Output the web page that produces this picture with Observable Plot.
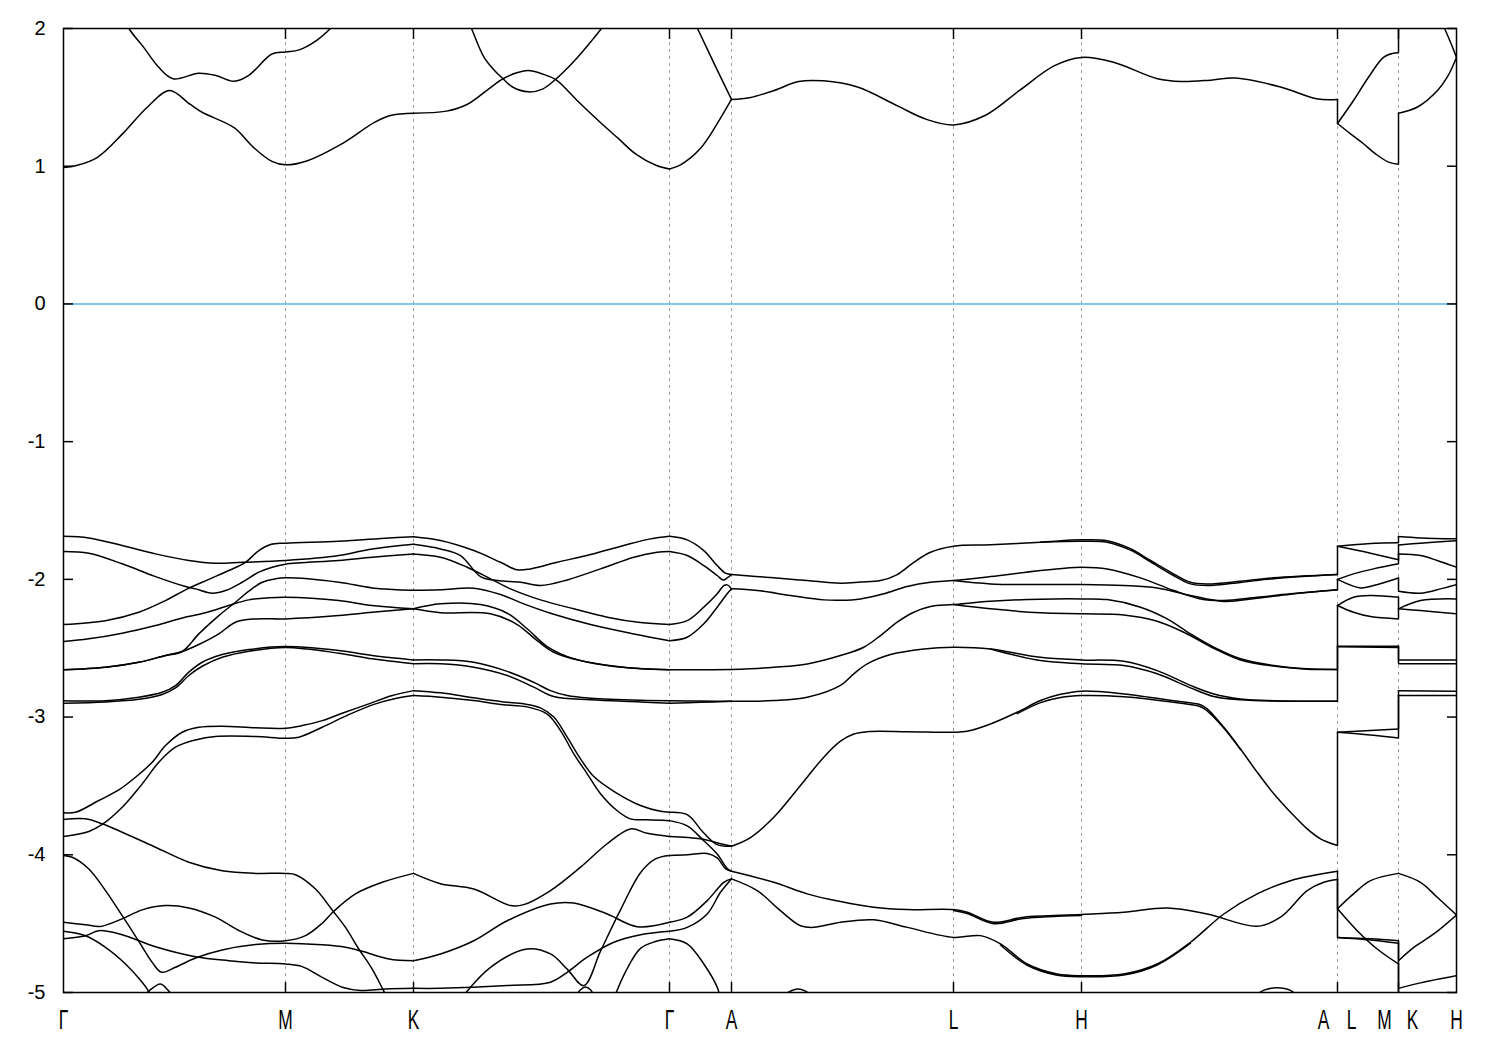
<!DOCTYPE html>
<html>
<head>
<meta charset="utf-8">
<script src="https://cdn.jsdelivr.net/npm/d3@7"></script>
<script src="https://cdn.jsdelivr.net/npm/@observablehq/plot@0.6"></script>
<style>
  html, body { margin: 0; padding: 0; background: #fff; }
  #chart { width: 1500px; height: 1050px; }
</style>
</head>
<body>
<div id="chart"></div>
<script>
// ---- k-path (Å⁻¹) and labels ----
const kTicks = [0, 1.11, 1.75, 3.03, 3.34, 4.45, 5.09, 6.37, 6.675, 6.965];
const kTickLabels = ["Γ", "M", "K", "Γ", "A", "L", "H", "A L", "M K", "H"];
const yTicks = [-5, -4, -3, -2, -1, 0, 1, 2];
const fermiLevel = [0];

// ---- bands, segment Γ–M–K : [k, E(eV)] ----
const segGMK = [
  [[0,0.99],[0.065,1.005],[0.17,1.065],[0.295,1.235],[0.42,1.43],[0.53,1.55],[0.6325,1.45],[0.695,1.39],[0.853,1.28],[0.9475,1.14],[1.042,1.035],[1.11,1.01],[1.22,1.04],[1.389,1.16],[1.557,1.32],[1.64,1.37],[1.75,1.385]],
  [[0.285,2.15],[0.3275,2.0],[0.40,1.865],[0.475,1.72],[0.548,1.635],[0.675,1.675],[0.7585,1.66],[0.853,1.617],[0.9265,1.66],[1.042,1.815],[1.11,1.83],[1.1785,1.845],[1.2625,1.91],[1.335,2.0],[1.385,2.08]],
  [[0,-1.687],[0.1265,-1.699],[0.2935,-1.754],[0.46,-1.815],[0.6265,-1.863],[0.76,-1.883],[0.8935,-1.876],[1.11,-1.863],[1.3765,-1.827],[1.5435,-1.779],[1.75,-1.745]],
  [[0,-1.798],[0.1265,-1.81],[0.2935,-1.887],[0.46,-1.98],[0.61,-2.052],[0.66,-2.069],[0.7435,-2.10],[0.81,-2.081],[0.8935,-2.021],[0.9765,-1.948],[1.0435,-1.912],[1.11,-1.89],[1.3765,-1.863],[1.5435,-1.839],[1.75,-1.815]],
  [[0,-2.328],[0.21,-2.30],[0.3765,-2.239],[0.51,-2.154],[0.61,-2.076],[0.7265,-2.0],[0.8265,-1.936],[0.91,-1.876],[0.9765,-1.791],[1.035,-1.747],[1.11,-1.737],[1.3765,-1.723],[1.6265,-1.699],[1.75,-1.69]],
  [[0,-2.452],[0.1265,-2.432],[0.2935,-2.391],[0.46,-2.335],[0.5935,-2.28],[0.71,-2.243],[0.8265,-2.19],[0.9265,-2.149],[1.0265,-2.134],[1.11,-2.13],[1.3765,-2.154],[1.5435,-2.19],[1.75,-2.214]],
  [[0,-2.657],[0.21,-2.638],[0.3765,-2.602],[0.51,-2.553],[0.5935,-2.524],[0.6765,-2.396],[0.7765,-2.263],[0.86,-2.166],[0.9265,-2.086],[0.9935,-2.021],[1.06,-1.996],[1.11,-1.989],[1.3765,-2.021],[1.5435,-2.062],[1.75,-2.08]],
  [[0,-2.657],[0.21,-2.638],[0.3765,-2.602],[0.51,-2.553],[0.5935,-2.524],[0.6765,-2.473],[0.7765,-2.396],[0.86,-2.311],[0.96,-2.287],[1.11,-2.287],[1.3765,-2.263],[1.5435,-2.239],[1.75,-2.214]],
  [[0,-2.881],[0.21,-2.881],[0.3765,-2.856],[0.4935,-2.82],[0.56,-2.771],[0.6265,-2.674],[0.6935,-2.602],[0.7935,-2.546],[0.9265,-2.51],[1.11,-2.488],[1.3765,-2.517],[1.5435,-2.553],[1.75,-2.585]],
  [[0,-2.90],[0.21,-2.89],[0.3765,-2.871],[0.4935,-2.836],[0.56,-2.788],[0.6265,-2.698],[0.6935,-2.631],[0.7935,-2.566],[0.9265,-2.522],[1.11,-2.495],[1.3765,-2.536],[1.5435,-2.577],[1.75,-2.613]],
  [[0,-3.695],[0.06,-3.691],[0.1765,-3.606],[0.2765,-3.529],[0.36,-3.437],[0.4435,-3.328],[0.51,-3.207],[0.5935,-3.11],[0.6765,-3.074],[0.7935,-3.066],[0.96,-3.078],[1.11,-3.081],[1.1935,-3.062],[1.2935,-3.026],[1.3935,-2.972],[1.5265,-2.904],[1.64,-2.845],[1.75,-2.808]],
  [[0,-3.867],[0.1265,-3.831],[0.1935,-3.78],[0.2935,-3.655],[0.3935,-3.485],[0.4765,-3.328],[0.56,-3.219],[0.66,-3.166],[0.76,-3.141],[0.96,-3.141],[1.11,-3.154],[1.1765,-3.146],[1.2935,-3.074],[1.4265,-2.982],[1.56,-2.904],[1.66,-2.865],[1.75,-2.844]],
  [[0,-3.744],[0.11,-3.739],[0.1935,-3.775],[0.2935,-3.836],[0.46,-3.945],[0.6265,-4.054],[0.7935,-4.116],[0.96,-4.135],[1.11,-4.135],[1.16,-4.145],[1.26,-4.249],[1.3435,-4.401],[1.41,-4.527],[1.4765,-4.684],[1.5435,-4.83],[1.6015,-4.99],[1.66,-5.15]],
  [[0,-4.005],[0.0435,-4.018],[0.1265,-4.103],[0.21,-4.26],[0.2935,-4.442],[0.3765,-4.629],[0.4435,-4.781],[0.49,-4.853],[0.56,-4.817],[0.66,-4.749],[0.7935,-4.691],[0.96,-4.652],[1.11,-4.642],[1.2935,-4.654],[1.41,-4.672],[1.4935,-4.701],[1.6265,-4.756],[1.75,-4.769]],
  [[0,-4.49],[0.11,-4.508],[0.185,-4.52],[0.2935,-4.465],[0.3935,-4.40],[0.51,-4.369],[0.6265,-4.386],[0.76,-4.453],[0.8765,-4.55],[0.9935,-4.618],[1.11,-4.624],[1.21,-4.587],[1.2935,-4.497],[1.3515,-4.41],[1.46,-4.284],[1.5935,-4.2],[1.75,-4.135]],
  [[0,-4.555],[0.11,-4.588],[0.21,-4.672],[0.31,-4.793],[0.3935,-4.926],[0.435,-5.01],[0.475,-5.1]],
  [[0,-4.61],[0.11,-4.588],[0.1765,-4.551],[0.2935,-4.58],[0.46,-4.668],[0.66,-4.74],[0.8265,-4.769],[0.96,-4.785],[1.11,-4.793],[1.1935,-4.812],[1.2935,-4.89],[1.3935,-4.962],[1.485,-4.985],[1.61,-4.975],[1.75,-4.97]],
  [[0.385,-5.05],[0.4265,-4.99],[0.485,-4.938],[0.5265,-4.99],[0.56,-5.05]]
];

// ---- segment K–Γ ----
const segKG = [
  [[1.75,1.385],[1.915,1.40],[2.02,1.45],[2.125,1.56],[2.1975,1.635],[2.27,1.68],[2.3235,1.695],[2.395,1.67],[2.46,1.63],[2.52,1.55],[2.585,1.453],[2.69,1.31],[2.775,1.20],[2.86,1.09],[2.965,1.005],[3.03,0.98]],
  [[1.995,2.15],[2.04,2.0],[2.103,1.79],[2.155,1.695],[2.1975,1.635],[2.245,1.575],[2.3235,1.54],[2.395,1.56],[2.46,1.63],[2.525,1.72],[2.585,1.815],[2.64,1.91],[2.69,2.0],[2.735,2.08]],
  [[1.75,-1.69],[1.885,-1.718],[2.0515,-1.791],[2.185,-1.876],[2.2685,-1.931],[2.335,-1.924],[2.4685,-1.876],[2.635,-1.82],[2.8015,-1.754],[2.935,-1.706],[3.03,-1.687]],
  [[1.75,-1.745],[1.885,-1.779],[1.985,-1.827],[2.085,-1.98],[2.1685,-2.009],[2.285,-2.021],[2.385,-2.045],[2.5185,-2.004],[2.685,-1.924],[2.8515,-1.839],[2.9685,-1.803],[3.03,-1.798]],
  [[1.75,-1.815],[1.885,-1.839],[2.0185,-1.912],[2.135,-1.996],[2.235,-2.069],[2.385,-2.149],[2.5515,-2.214],[2.7185,-2.275],[2.885,-2.314],[3.03,-2.328]],
  [[1.75,-2.08],[1.885,-2.076],[2.0515,-2.064],[2.185,-2.11],[2.3015,-2.178],[2.435,-2.246],[2.635,-2.328],[2.8515,-2.396],[3.03,-2.445]],
  [[1.75,-2.214],[1.885,-2.178],[2.085,-2.183],[2.2185,-2.246],[2.3185,-2.359],[2.4185,-2.488],[2.5515,-2.577],[2.7185,-2.626],[2.885,-2.65],[3.03,-2.657]],
  [[1.75,-2.214],[1.885,-2.242],[2.135,-2.25],[2.2685,-2.328],[2.3685,-2.445],[2.4515,-2.529],[2.585,-2.59],[2.8015,-2.638],[3.03,-2.657]],
  [[1.75,-2.585],[1.885,-2.585],[2.0515,-2.602],[2.2185,-2.668],[2.3515,-2.748],[2.435,-2.808],[2.5185,-2.844],[2.635,-2.863],[2.885,-2.878],[3.03,-2.881]],
  [[1.75,-2.613],[1.885,-2.613],[2.0515,-2.638],[2.2185,-2.698],[2.3515,-2.783],[2.4515,-2.851],[2.635,-2.875],[2.885,-2.89],[3.03,-2.90]],
  [[1.75,-2.808],[1.885,-2.824],[2.05,-2.86],[2.2,-2.89],[2.3015,-2.904],[2.385,-2.933],[2.4515,-3.0],[2.5185,-3.146],[2.585,-3.303],[2.6515,-3.432],[2.7515,-3.539],[2.885,-3.642],[2.985,-3.684],[3.03,-3.691]],
  [[1.75,-2.844],[1.885,-2.856],[2.05,-2.88],[2.2,-2.91],[2.3185,-2.926],[2.4185,-2.978],[2.485,-3.098],[2.5515,-3.267],[2.6185,-3.412],[2.685,-3.557],[2.7685,-3.68],[2.835,-3.739],[2.9185,-3.746],[3.03,-3.752]],
  [[1.75,-4.135],[1.885,-4.21],[2.0515,-4.249],[2.235,-4.369],[2.3015,-4.362],[2.435,-4.26],[2.585,-4.09],[2.7185,-3.92],[2.835,-3.812],[2.9185,-3.844],[3.03,-3.867]],
  [[1.75,-4.769],[1.885,-4.72],[2.0515,-4.624],[2.2185,-4.479],[2.435,-4.357],[2.5515,-4.35],[2.7185,-4.43],[2.8685,-4.522],[3.03,-4.49]],
  [[1.75,-4.97],[1.885,-4.97],[2.2185,-4.95],[2.435,-4.925],[2.5185,-4.853],[2.6185,-4.744],[2.7515,-4.635],[2.885,-4.58],[3.03,-4.555]],
  [[1.985,-5.05],[2.135,-4.817],[2.3185,-4.684],[2.435,-4.72],[2.5185,-4.83],[2.6015,-4.95],[2.685,-4.70],[2.785,-4.40],[2.885,-4.13],[2.96,-4.03],[3.03,-4.005]],
  [[2.75,-5.05],[2.81,-4.85],[2.885,-4.68],[2.96,-4.63],[3.03,-4.61]],
  [[2.55,-5.05],[2.585,-4.98],[2.61,-4.96],[2.635,-4.98],[2.66,-5.05]]
];

// ---- segment Γ–A ----
const segGA = [
  [[3.03,0.98],[3.085,1.01],[3.135,1.06],[3.185,1.13],[3.235,1.23],[3.285,1.35],[3.34,1.485]],
  [[3.12,2.15],[3.17,2.0],[3.255,1.74],[3.34,1.485]],
  [[3.03,-1.687],[3.1185,-1.713],[3.2015,-1.791],[3.2685,-1.90],[3.31,-1.955],[3.34,-1.965]],
  [[3.03,-1.798],[3.1185,-1.827],[3.2015,-1.90],[3.2685,-1.972],[3.2985,-2.005],[3.3185,-1.99],[3.34,-1.965]],
  [[3.03,-2.328],[3.1185,-2.30],[3.2015,-2.202],[3.2685,-2.105],[3.3015,-2.045],[3.3185,-2.04],[3.34,-2.069]],
  [[3.03,-2.445],[3.1185,-2.42],[3.2015,-2.323],[3.2685,-2.202],[3.3185,-2.105],[3.34,-2.069]],
  [[3.03,-2.657],[3.185,-2.656],[3.34,-2.655]],
  [[3.03,-2.881],[3.185,-2.884],[3.34,-2.885]],
  [[3.03,-2.90],[3.185,-2.893],[3.34,-2.885]],
  [[3.03,-3.691],[3.1185,-3.709],[3.2015,-3.842],[3.2685,-3.926],[3.34,-3.938]],
  [[3.03,-3.867],[3.185,-3.884],[3.285,-3.92],[3.34,-3.938]],
  [[3.03,-3.752],[3.1185,-3.79],[3.2015,-3.898],[3.2685,-3.995],[3.3185,-4.10],[3.34,-4.12]],
  [[3.03,-4.005],[3.1185,-4.0],[3.2185,-3.99],[3.2685,-4.022],[3.31,-4.10],[3.34,-4.12]],
  [[3.03,-4.49],[3.1185,-4.453],[3.2185,-4.333],[3.3015,-4.2],[3.34,-4.175]],
  [[3.03,-4.555],[3.1185,-4.527],[3.2185,-4.43],[3.285,-4.272],[3.34,-4.175]],
  [[3.03,-4.61],[3.1185,-4.647],[3.2015,-4.793],[3.2685,-4.962],[3.285,-5.05]]
];

// ---- segment A–L–H–A ----
const segALHA = [
  [[3.34,1.485],[3.43,1.497],[3.5535,1.55],[3.675,1.615],[3.799,1.62],[3.97,1.575],[4.1675,1.44],[4.315,1.34],[4.45,1.30],[4.61,1.37],[4.78,1.55],[4.955,1.73],[5.09,1.79],[5.25,1.755],[5.47,1.635],[5.59,1.615],[5.735,1.625],[5.86,1.64],[6.085,1.575],[6.265,1.49],[6.37,1.485]],
  [[3.34,-1.965],[3.5515,-1.989],[3.7185,-2.009],[3.885,-2.028],[3.985,-2.02],[4.085,-2.009],[4.1685,-1.965],[4.2515,-1.876],[4.335,-1.803],[4.45,-1.759],[4.635,-1.749],[4.885,-1.73],[5.09,-1.713],[5.2185,-1.72],[5.335,-1.778],[5.435,-1.863],[5.55,-1.96],[5.635,-2.021],[5.7185,-2.033],[5.885,-2.014],[6.05,-1.989],[6.37,-1.965]],
  [[4.885,-1.73],[5.09,-1.723],[5.2185,-1.73],[5.335,-1.788],[5.435,-1.873],[5.55,-1.972],[5.635,-2.033],[5.7185,-2.045],[5.885,-2.022],[6.05,-1.995],[6.37,-1.965]],
  [[3.34,-2.069],[3.4685,-2.081],[3.635,-2.117],[3.8015,-2.149],[3.885,-2.152],[3.985,-2.142],[4.1015,-2.105],[4.2185,-2.052],[4.335,-2.021],[4.45,-2.009],[4.635,-1.98],[4.885,-1.936],[5.0185,-1.917],[5.09,-1.912],[5.2185,-1.924],[5.385,-1.989],[5.5515,-2.081],[5.685,-2.142],[5.8015,-2.154],[5.9685,-2.13],[6.135,-2.105],[6.37,-2.076]],
  [[4.45,-2.009],[4.635,-2.033],[4.885,-2.038],[5.09,-2.038],[5.3015,-2.045],[5.4685,-2.062],[5.635,-2.117],[5.8015,-2.16],[5.9685,-2.137],[6.135,-2.108],[6.37,-2.076]],
  [[3.34,-2.655],[3.5515,-2.638],[3.7185,-2.614],[3.885,-2.553],[4.0015,-2.493],[4.085,-2.408],[4.1685,-2.311],[4.2515,-2.239],[4.335,-2.197],[4.45,-2.183],[4.635,-2.159],[4.885,-2.144],[5.09,-2.142],[5.2185,-2.147],[5.385,-2.202],[5.5185,-2.287],[5.635,-2.396],[5.7515,-2.493],[5.885,-2.577],[6.0515,-2.626],[6.2185,-2.65],[6.37,-2.655]],
  [[4.45,-2.183],[4.635,-2.214],[4.885,-2.243],[5.09,-2.25],[5.3015,-2.258],[5.4685,-2.304],[5.6015,-2.384],[5.7515,-2.50],[5.885,-2.585],[6.0515,-2.63],[6.2185,-2.652],[6.37,-2.655]],
  [[3.34,-2.885],[3.55,-2.88],[3.7185,-2.856],[3.885,-2.77],[3.9515,-2.686],[4.0185,-2.614],[4.135,-2.546],[4.3015,-2.505],[4.45,-2.493],[4.635,-2.505],[4.885,-2.566],[5.09,-2.585],[5.3015,-2.595],[5.4685,-2.663],[5.635,-2.77],[5.7515,-2.832],[5.885,-2.868],[6.0515,-2.881],[6.37,-2.885]],
  [[4.635,-2.505],[4.885,-2.59],[5.09,-2.613],[5.3015,-2.626],[5.4685,-2.686],[5.635,-2.788],[5.7515,-2.851],[5.885,-2.875],[6.0515,-2.884],[6.37,-2.885]],
  [[3.34,-3.938],[3.435,-3.875],[3.5515,-3.728],[3.685,-3.497],[3.8015,-3.291],[3.885,-3.175],[3.9515,-3.123],[4.0185,-3.106],[4.2185,-3.106],[4.45,-3.11],[4.5185,-3.103],[4.635,-3.05],[4.7685,-2.965],[4.885,-2.88],[4.985,-2.835],[5.09,-2.812],[5.3015,-2.832],[5.5515,-2.881],[5.685,-2.91],[5.7185,-2.94],[5.8015,-3.074],[5.885,-3.232],[5.9685,-3.401],[6.0515,-3.557],[6.135,-3.691],[6.2185,-3.812],[6.285,-3.884],[6.37,-3.933]],
  [[4.7685,-2.975],[4.885,-2.895],[4.985,-2.858],[5.09,-2.844],[5.3015,-2.852],[5.5515,-2.893],[5.685,-2.925],[5.7185,-2.955],[5.8015,-3.08],[5.885,-3.236]],
  [[3.34,-4.12],[3.5515,-4.2],[3.7185,-4.284],[3.885,-4.34],[4.0515,-4.381],[4.2185,-4.398],[4.45,-4.398],[4.5185,-4.417],[4.6515,-4.49],[4.8015,-4.453],[5.09,-4.434],[5.3015,-4.417],[5.5185,-4.386],[5.7185,-4.43],[5.9685,-4.519],[6.085,-4.453],[6.2185,-4.26],[6.3015,-4.2],[6.37,-4.18]],
  [[4.45,-4.404],[4.5185,-4.426],[4.6515,-4.5],[4.8015,-4.462],[5.09,-4.441]],
  [[3.34,-4.175],[3.4685,-4.26],[3.585,-4.406],[3.685,-4.515],[3.7515,-4.527],[3.885,-4.49],[4.0515,-4.472],[4.2185,-4.527],[4.45,-4.60],[4.585,-4.587],[4.685,-4.647],[4.8185,-4.793],[4.9685,-4.866],[5.09,-4.878],[5.3015,-4.866],[5.4685,-4.793],[5.635,-4.635],[5.8015,-4.43],[5.9685,-4.284],[6.135,-4.188],[6.37,-4.12]],
  [[4.685,-4.655],[4.8185,-4.802],[4.9685,-4.874],[5.09,-4.885],[5.3015,-4.873],[5.4685,-4.80],[5.635,-4.642]],
  [[3.56,-5.05],[3.635,-4.99],[3.67,-4.975],[3.71,-4.99],[3.76,-5.05]],
  [[5.935,-5.05],[6.0,-4.985],[6.065,-4.966],[6.135,-4.985],[6.185,-5.05]]
];

// ---- segment L–M ----
const segLM = [
  [[6.37,1.31],[6.435,1.235],[6.5,1.163],[6.56,1.09],[6.625,1.03],[6.675,1.015]],
  [[6.37,1.31],[6.45,1.477],[6.525,1.646],[6.6,1.79],[6.65,1.82],[6.675,1.823]],
  [[6.37,-1.76],[6.535,-1.74],[6.675,-1.735]],
  [[6.37,-1.76],[6.535,-1.81],[6.675,-1.858]],
  [[6.37,-2.0],[6.45,-1.96],[6.55,-1.924],[6.675,-1.887]],
  [[6.37,-2.0],[6.485,-2.062],[6.55,-2.045],[6.675,-1.99]],
  [[6.37,-2.19],[6.45,-2.13],[6.535,-2.117],[6.675,-2.13]],
  [[6.37,-2.19],[6.45,-2.239],[6.535,-2.27],[6.675,-2.287]],
  [[6.37,-2.485],[6.675,-2.485]],
  [[6.37,-2.49],[6.675,-2.495]],
  [[6.37,-3.11],[6.675,-3.086]],
  [[6.37,-3.11],[6.535,-3.13],[6.675,-3.152]],
  [[6.37,-4.392],[6.45,-4.284],[6.535,-4.188],[6.675,-4.135]],
  [[6.37,-4.392],[6.4685,-4.551],[6.5685,-4.684],[6.675,-4.793]],
  [[6.37,-4.60],[6.535,-4.61],[6.675,-4.624]],
  [[6.37,-4.60],[6.535,-4.618],[6.675,-4.642]]
];

// ---- segment K–H ----
const segKH = [
  [[6.675,1.385],[6.77,1.43],[6.87,1.55],[6.92,1.65],[6.965,1.79]],
  [[6.85,2.15],[6.905,2.0],[6.935,1.9],[6.965,1.79]],
  [[6.675,-1.689],[6.785,-1.699],[6.965,-1.706]],
  [[6.675,-1.75],[6.785,-1.737],[6.965,-1.72]],
  [[6.675,-1.815],[6.785,-1.827],[6.8685,-1.863],[6.965,-1.912]],
  [[6.675,-2.086],[6.785,-2.10],[6.885,-2.069],[6.965,-2.038]],
  [[6.675,-2.214],[6.785,-2.154],[6.965,-2.142]],
  [[6.675,-2.214],[6.785,-2.227],[6.965,-2.25]],
  [[6.675,-2.585],[6.965,-2.585]],
  [[6.675,-2.613],[6.965,-2.613]],
  [[6.675,-2.808],[6.965,-2.812]],
  [[6.675,-2.844],[6.965,-2.844]],
  [[6.675,-4.135],[6.785,-4.20],[6.8685,-4.308],[6.965,-4.437]],
  [[6.675,-4.769],[6.7515,-4.672],[6.8515,-4.575],[6.965,-4.437]],
  [[6.675,-4.97],[6.785,-4.93],[6.965,-4.878]]
];

// ---- discontinuities of the path: [E before, E after] ----
const jumpAL = [[1.485,1.31],[-1.965,-1.76],[-2.076,-2.0],[-2.655,-2.19],[-2.885,-2.485],[-3.933,-3.11],[-4.12,-4.392],[-4.18,-4.60]];
const jumpMK = [[1.015,1.385],[1.823,2.3],[-1.735,-1.689],[-1.858,-1.75],[-1.887,-1.815],[-1.99,-2.086],[-2.13,-2.214],[-2.287,-2.214],[-2.485,-2.585],[-2.495,-2.613],[-3.086,-2.808],[-3.152,-2.844],[-4.624,-4.769],[-4.642,-4.97],[-4.793,-5.1]];

// ---- build ----
const segments = [segGMK, segKG, segGA, segALHA, segLM, segKH];
const rows = [];
segments.forEach((seg, si) => seg.forEach((band, bi) =>
  band.forEach(([k, E]) => rows.push({k, E, id: si + "-" + bi}))));

const jumps = [
  ...jumpAL.map(([a, b]) => ({k: kTicks[7], e1: a, e2: b})),
  ...jumpMK.map(([a, b]) => ({k: kTicks[8], e1: a, e2: b}))
];

const labelRows = kTicks.map((k, i) => ({k, label: kTickLabels[i]}));
const singleLabels = labelRows.filter(d => !d.label.includes(" "));
const pairLabels = labelRows.filter(d => d.label.includes(" "))
  .map(d => ({k: d.k, left: d.label.split(" ")[0], right: d.label.split(" ")[1]}));
const innerTicks = kTicks.slice(1, -1);

const labelFont = "'Liberation Sans', Arial, sans-serif";
const labelOpts = {x: "k", frameAnchor: "bottom", lineAnchor: "top", dy: 17,
  fontSize: 28, fontFamily: labelFont, fill: "#000"};

const chart = Plot.plot({
  width: 1500,
  height: 1050,
  marginTop: 28,
  marginRight: 44,
  marginBottom: 58,
  marginLeft: 63,
  x: {domain: [0, kTicks[kTicks.length - 1]]},
  y: {domain: [-5, 2]},
  style: {fontFamily: "'Liberation Sans', Arial, sans-serif", background: "#fff", color: "#000"},
  marks: [
    Plot.ruleX(innerTicks, {stroke: "#a0a0a0", strokeWidth: 1, strokeDasharray: "3,4"}),
    Plot.ruleY(fermiLevel, {stroke: "#56b4e9", strokeWidth: 1.5}),
    Plot.line(rows, {x: "k", y: "E", z: "id", curve: "catmull-rom", stroke: "#000", strokeWidth: 1.5, clip: true}),
    Plot.ruleX(jumps, {x: "k", y1: "e1", y2: "e2", stroke: "#000", strokeWidth: 1.5, clip: true}),
    Plot.axisY(yTicks, {anchor: "left", tickSize: -10, tickPadding: 28, strokeWidth: 1.5,
      tickFormat: d => String(d), fontSize: 20, label: null}),
    Plot.axisY(yTicks, {anchor: "right", tickSize: -10, strokeWidth: 1.5, fill: "none", label: null}),
    Plot.axisX(innerTicks, {anchor: "bottom", tickSize: -10, strokeWidth: 1.5, fill: "none", label: null}),
    Plot.axisX(innerTicks, {anchor: "top", tickSize: -10, strokeWidth: 1.5, fill: "none", label: null}),
    Plot.text(singleLabels, {...labelOpts, text: "label"}),
    Plot.text(pairLabels, {...labelOpts, text: "left", dx: -14}),
    Plot.text(pairLabels, {...labelOpts, text: "right", dx: 14}),
    Plot.frame({stroke: "#000", strokeWidth: 1.5})
  ]
});
document.getElementById("chart").appendChild(chart);

// condense the k-point labels horizontally (tall, narrow glyphs as in the original)
chart.querySelectorAll('g[aria-label="text"] text').forEach(t => {
  const w = t.getComputedTextLength();
  if (w > 0) {
    t.setAttribute("textLength", (w * 0.62).toFixed(2));
    t.setAttribute("lengthAdjust", "spacingAndGlyphs");
  }
});
</script>
</body>
</html>
